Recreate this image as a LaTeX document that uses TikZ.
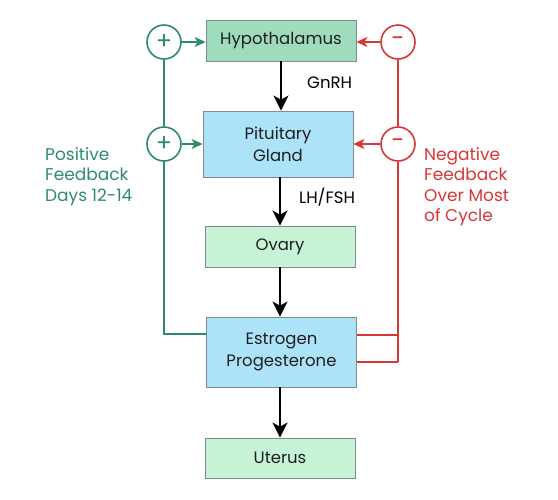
\documentclass[tikz,border=0pt]{standalone}
\usepackage{fontspec}
\setmainfont{Poppins}
\usetikzlibrary{arrows.meta}
\definecolor{pgreen}{HTML}{2E8B6C}
\definecolor{nred}{HTML}{D93636}
\definecolor{hypofill}{HTML}{9FDCBD}
\definecolor{lgfill}{HTML}{C6F2D6}
\definecolor{bluefill}{HTML}{ADE3F8}
\definecolor{boxline}{HTML}{7F8C8A}
\begin{document}
\begin{tikzpicture}[x=1pt,y=-1pt,
  box/.style={draw=boxline,line width=0.8pt,minimum width=150pt,align=center,font=\fontsize{16.5}{22}\selectfont,text=black!88},
  sgn/.style={circle,line width=1.6pt,minimum size=34pt,inner sep=0pt,font=\fontsize{24}{24}\selectfont},
  mainarrow/.style={line width=2.2pt,-{Stealth[length=15pt,width=15pt,inset=4pt]}},
  fbarrow/.style={-{Stealth[length=11pt,width=10pt,inset=3pt]}},
  fb/.style={line width=1.4pt},
  lbl/.style={font=\fontsize{17}{20.5}\selectfont,align=left,anchor=north west,inner sep=0pt}]
\useasboundingbox (0,0) rectangle (558,499);
\node[box,fill=hypofill,minimum height=41pt] (hyp) at (281,40.5) {Hypothalamus};
\node[box,fill=bluefill,minimum height=66pt] (pit) at (278,144) {Pituitary\\Gland};
\node[box,fill=lgfill,minimum height=41pt] (ova) at (280,246.5) {Ovary};
\node[box,fill=bluefill,minimum height=70pt] (est) at (281.5,352) {Estrogen\\Progesterone};
\node[box,fill=lgfill,minimum height=40pt] (ute) at (280,458) {Uterus};
\node[sgn,draw=pgreen,text=pgreen] (p1) at (164,42) {+};
\node[sgn,draw=pgreen,text=pgreen] (p2) at (164,144) {+};
\node[sgn,draw=nred,text=nred] (m1) at (398,42) {-};
\node[sgn,draw=nred,text=nred] (m2) at (398,144) {-};
\draw[mainarrow] (hyp.south -| 281,0) -- (pit.north -| 281,0);
\draw[mainarrow] (pit.south -| 280,0) -- (ova.north -| 280,0);
\draw[mainarrow] (ova.south -| 280,0) -- (est.north -| 280,0);
\draw[mainarrow] (est.south -| 280,0) -- (ute.north -| 280,0);
\node[font=\fontsize{16.5}{20}\selectfont,anchor=west,inner sep=0pt] (gnrh) at (307,83) {GnRH};
\node[font=\fontsize{16.5}{20}\selectfont,anchor=west,inner sep=0pt] (lhfsh) at (299,197) {LH/FSH};
\draw[fb,color=pgreen,fbarrow] (p1) -- (hyp.west |- p1);
\draw[fb,color=pgreen,fbarrow] (p2) -- (pit.west |- p2);
\draw[fb,color=nred,fbarrow] (m1) -- (hyp.east |- m1);
\draw[fb,color=nred,fbarrow] (m2) -- (pit.east |- m2);
\coordinate (gc) at (164,334);
\coordinate (ra) at (398,335);
\coordinate (rb) at (398,362);
\coordinate (ea) at (357,335);
\coordinate (eb) at (357,362);
\draw[fb,color=pgreen] (est.west |- gc) -- (gc) -- (p2);
\draw[fb,color=pgreen] (p2) -- (p1);
\draw[fb,color=nred] (ea) -- (ra);
\draw[fb,color=nred] (eb) -- (rb);
\draw[fb,color=nred] (rb) -- (ra) -- (m2);
\draw[fb,color=nred] (m2) -- (m1);
\node[lbl,text=pgreen] (pos) at (45,147) {Positive\\Feedback\\Days 12-14};
\node[lbl,text=nred] (neg) at (424,147) {Negative\\Feedback\\Over Most\\of Cycle};
\end{tikzpicture}
\end{document}
